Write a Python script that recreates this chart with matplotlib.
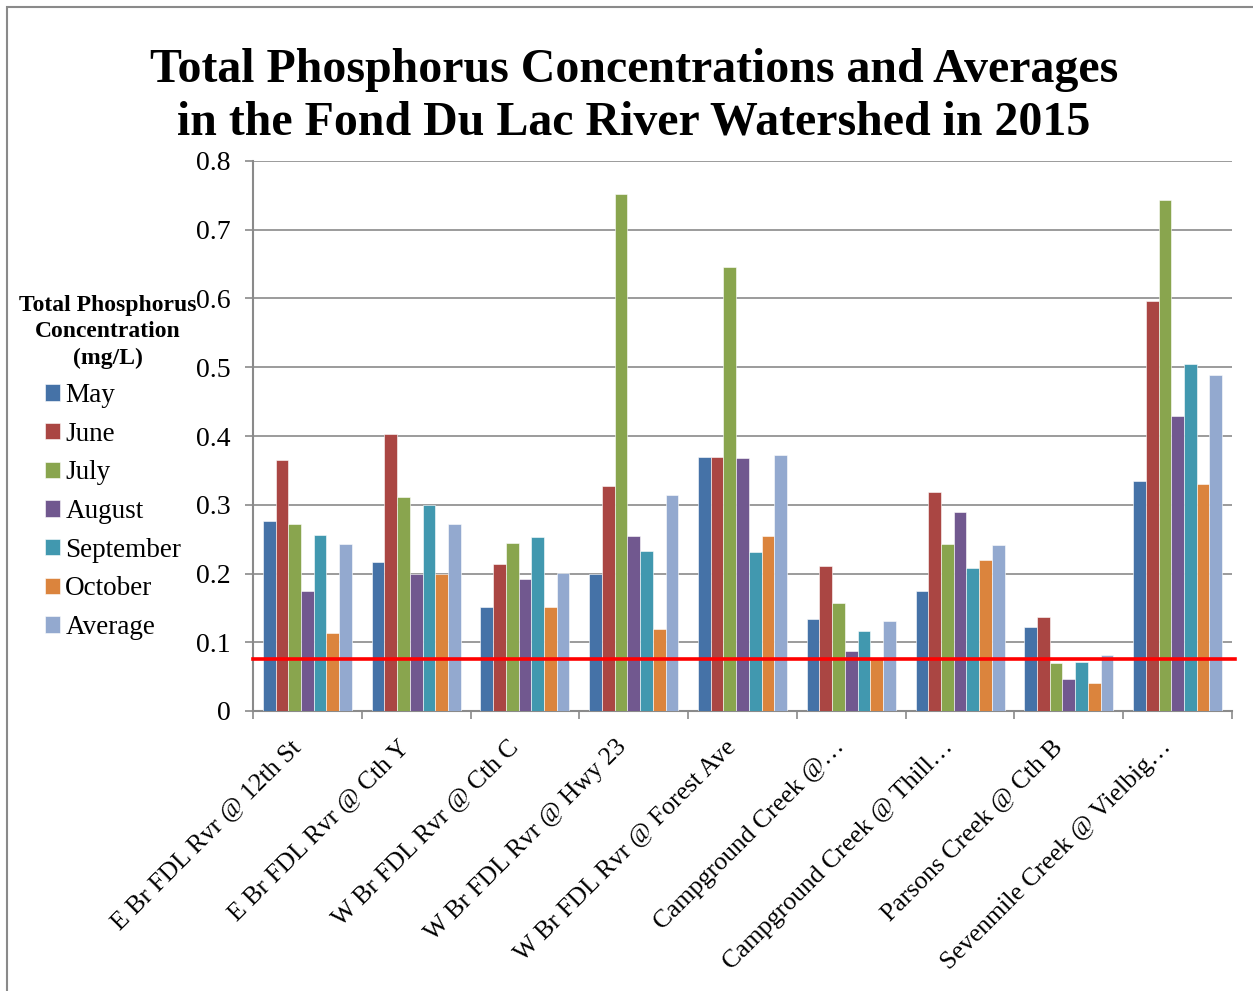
import numpy as np
import matplotlib
matplotlib.use("Agg")
import matplotlib.pyplot as plt
from matplotlib.patches import Rectangle
from matplotlib.transforms import ScaledTranslation

plt.rcParams['font.family'] = ['Liberation Serif', 'DejaVu Serif']

sites = ["E Br FDL Rvr @ 12th St", "E Br FDL Rvr @ Cth Y", "W Br FDL Rvr @ Cth C",
         "W Br FDL Rvr @ Hwy 23", "W Br FDL Rvr @ Forest Ave", "Campground Creek @\u2026",
         "Campground Creek @ Thill\u2026", "Parsons Creek @ Cth B", "Sevenmile Creek @ Vielbig\u2026"]

may = [0.276, 0.217, 0.152, 0.199, 0.369, 0.134, 0.175, 0.122, 0.334]
june = [0.365, 0.403, 0.214, 0.327, 0.369, 0.211, 0.319, 0.137, 0.596]
july = [0.272, 0.312, 0.245, 0.752, 0.646, 0.157, 0.243, 0.070, 0.743]
august = [0.174, 0.200, 0.192, 0.255, 0.368, 0.088, 0.290, 0.047, 0.429]
september = [0.256, 0.300, 0.253, 0.233, 0.231, 0.117, 0.208, 0.071, 0.505]
october = [0.113, 0.199, 0.152, 0.119, 0.255, 0.077, 0.219, 0.041, 0.330]
average = [0.243, 0.272, 0.201, 0.314, 0.373, 0.131, 0.242, 0.081, 0.489]

months = ["May", "June", "July", "August", "September", "October", "Average"]
series = [may, june, july, august, september, october, average]
colors = ["#4572A7", "#AA4643", "#89A54E", "#71588F", "#4198AF", "#DB843D", "#93A9CF"]

criterion = 0.075  # phosphorus criterion line, mg/L

W, H = 1253, 991
fig = plt.figure(figsize=(W / 100, H / 100), dpi=100)
ax = fig.add_axes([253 / W, 1 - 711 / H, (1232 - 253) / W, (711 - 161) / H])

x = np.arange(len(sites))
bw = 0.117
for i, (vals, c, name) in enumerate(zip(series, colors, months)):
    ax.bar(x + (i - 3) * bw, vals, bw, color=c, label=name,
           edgecolor="white", linewidth=0.4, zorder=3)

ax.set_xlim(-0.5, len(sites) - 0.5)
ax.set_ylim(0, 0.8)
ax.set_yticks(np.arange(0, 0.81, 0.1))
ax.set_yticklabels(["0"] + ["%.1f" % v for v in np.arange(0.1, 0.81, 0.1)])
ax.yaxis.grid(True, color="#8a8a8a", linewidth=1.2, zorder=0)
ax.set_axisbelow(True)

for s in ["top", "right"]:
    ax.spines[s].set_visible(False)
for s in ["left", "bottom"]:
    ax.spines[s].set_color("#8a8a8a")
    ax.spines[s].set_linewidth(1.5)

ax.tick_params(axis="y", direction="out", length=6, width=1.2, color="#8a8a8a",
               labelsize=20, pad=10)
ax.set_xticks(x)
ax.set_xticks(np.arange(-0.5, len(sites), 1), minor=True)
ax.tick_params(axis="x", which="major", length=0, pad=18)
ax.tick_params(axis="x", which="minor", direction="out", length=6, width=1.2, color="#8a8a8a")
ax.set_xticklabels(sites, rotation=45, ha="right", rotation_mode="anchor", fontsize=18.5)
shift = ScaledTranslation(-18 / 100, 0, fig.dpi_scale_trans)
for lab in ax.get_xticklabels():
    lab.set_transform(lab.get_transform() + shift)

ax.plot([-0.5, len(sites) - 0.47], [criterion, criterion], color="#ff0000",
        linewidth=2.6, zorder=4, clip_on=False)

fig.text(634 / W, 1 - 96 / H, "Total Phosphorus Concentrations and Averages\nin the Fond Du Lac River Watershed in 2015",
         ha="center", va="center", fontsize=34.5, fontweight="bold", linespacing=1.25)

# legend title drawn on its own so the lines stay centred
fig.text(108 / W, 1 - 332 / H, "Total Phosphorus\nConcentration\n(mg/L)", ha="center", va="center",
         multialignment="center", fontsize=17, fontweight="bold", linespacing=1.32)

handles, labels = ax.get_legend_handles_labels()
leg = fig.legend(handles, labels, loc="upper left", bbox_to_anchor=(45 / W, 1 - 383 / H),
                 frameon=False, fontsize=19.5,
                 handlelength=0.55, handleheight=0.55, handletextpad=0.2,
                 labelspacing=0.505, borderaxespad=0, borderpad=0)

fig.patches.append(Rectangle((7 / W, -0.05), 1.1, 1 - 7 / H + 0.05, transform=fig.transFigure,
                             fill=False, edgecolor="#8a8a8a", linewidth=1.5))

fig.savefig("out.png", dpi=100)
